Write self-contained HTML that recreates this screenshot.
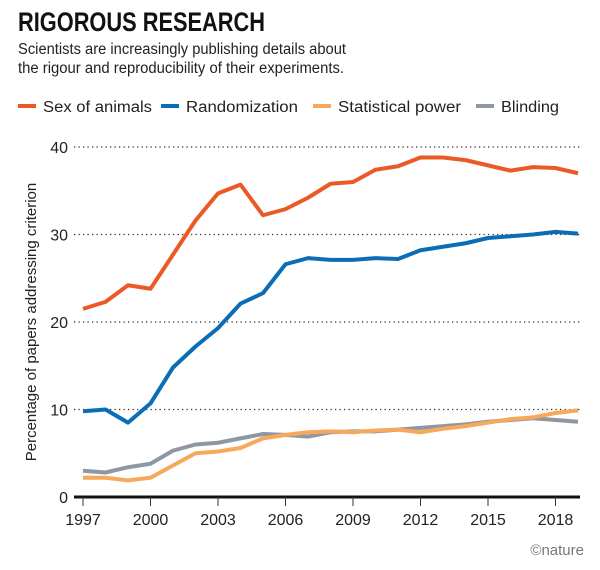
<!DOCTYPE html>
<html><head><meta charset="utf-8"><style>
body{margin:0;background:#fff;width:600px;height:565px;overflow:hidden;font-family:"Liberation Sans",sans-serif;}
svg text{font-family:"Liberation Sans",sans-serif;}
</style></head><body>
<svg id="chart" width="600" height="565">
<text x="18" y="31" font-size="27" font-weight="bold" textLength="247" lengthAdjust="spacingAndGlyphs" fill="#111">RIGOROUS RESEARCH</text>
<text x="18" y="54" font-size="15.5" textLength="328" lengthAdjust="spacingAndGlyphs" fill="#222">Scientists are increasingly publishing details about</text>
<text x="18" y="73" font-size="15.5" textLength="326" lengthAdjust="spacingAndGlyphs" fill="#222">the rigour and reproducibility of their experiments.</text>
<g id="legend"></g>
<g id="grid"></g><g id="lines"></g><g id="axis"></g>
<text transform="translate(36,322) rotate(-90)" text-anchor="middle" font-size="15" fill="#222">Percentage of papers addressing criterion</text>
<text x="584" y="555" text-anchor="end" font-size="15" fill="#777">©nature</text>
</svg>
<script>
const years=[1997,1998,1999,2000,2001,2002,2003,2004,2005,2006,2007,2008,2009,2010,2011,2012,2013,2014,2015,2016,2017,2018,2019];
const sexOfAnimals=[21.5,22.3,24.2,23.8,27.7,31.6,34.7,35.7,32.2,32.9,34.2,35.8,36.0,37.4,37.8,38.8,38.8,38.5,37.9,37.3,37.7,37.6,37.0];
const randomization=[9.8,10.0,8.5,10.7,14.8,17.2,19.3,22.1,23.3,26.6,27.3,27.1,27.1,27.3,27.2,28.2,28.6,29.0,29.6,29.8,30.0,30.3,30.1];
const statisticalPower=[2.2,2.2,1.9,2.2,3.6,5.0,5.2,5.6,6.7,7.1,7.4,7.5,7.4,7.6,7.7,7.4,7.8,8.1,8.5,8.9,9.1,9.6,9.9];
const blinding=[3.0,2.8,3.4,3.8,5.3,6.0,6.2,6.7,7.2,7.1,6.9,7.4,7.5,7.5,7.7,7.9,8.1,8.3,8.6,8.8,9.0,8.8,8.6];
const yTicks=[0,10,20,30,40];
const xTicks=[1997,2000,2003,2006,2009,2012,2015,2018];
const seriesNames=["Sex of animals","Randomization","Statistical power","Blinding"];
const NS="http://www.w3.org/2000/svg";
const x=y=>83+(y-1997)*22.5;
const yS=v=>497-v*8.75;
function mk(tag,attrs,parent){const e=document.createElementNS(NS,tag);for(const k in attrs)e.setAttribute(k,attrs[k]);parent.appendChild(e);return e;}
const grid=document.getElementById('grid'),axis=document.getElementById('axis'),lines=document.getElementById('lines'),legend=document.getElementById('legend');
yTicks.forEach(t=>{
 if(t>0){const l=mk('line',{x1:74,x2:580,y1:yS(t),y2:yS(t),stroke:'#333','stroke-width':1.3,'stroke-dasharray':'1.3 3.2'},grid);
 
 }
 const tx=mk('text',{x:68,y:yS(t)+6,'text-anchor':'end','font-size':16,fill:'#222'},axis);tx.textContent=t;
 
 
});
const base=mk('line',{x1:74,x2:580,y1:497,y2:497,stroke:'#111','stroke-width':3},axis);


xTicks.forEach(t=>{
 const l=mk('line',{x1:x(t),x2:x(t),y1:497,y2:506,stroke:'#333','stroke-width':1},axis);
 
 
 const tx=mk('text',{x:x(t),y:525,'text-anchor':'middle','font-size':16,fill:'#222'},axis);tx.textContent=t;
 
 
});
const series=[[blinding,'#8e97a2','blinding'],[statisticalPower,'#f6a95a','statistical-power'],[randomization,'#0b6db5','randomization'],[sexOfAnimals,'#e95a27','sex-of-animals']];
series.forEach(([d,c,n])=>{
 const p=mk('path',{d:d.map((v,i)=>(i?'L':'M')+x(years[i])+','+yS(v)).join(''),fill:'none',stroke:c,'stroke-width':4,'stroke-linejoin':'round'},lines);
 
 
});
const legCols=['#e95a27','#0b6db5','#f6a95a','#8e97a2'];
const legX=[18,161,313,476];
const legW=[109,112,123,58];
seriesNames.forEach((s,i)=>{
 const g=mk('g',{},legend);
 
 
 mk('line',{x1:legX[i],x2:legX[i]+18,y1:106,y2:106,stroke:legCols[i],'stroke-width':4},g);
 const t=mk('text',{x:legX[i]+25,y:112,'font-size':15.5,fill:'#222',textLength:legW[i],lengthAdjust:'spacingAndGlyphs'},g);t.textContent=s;
});
</script>
</body></html>
